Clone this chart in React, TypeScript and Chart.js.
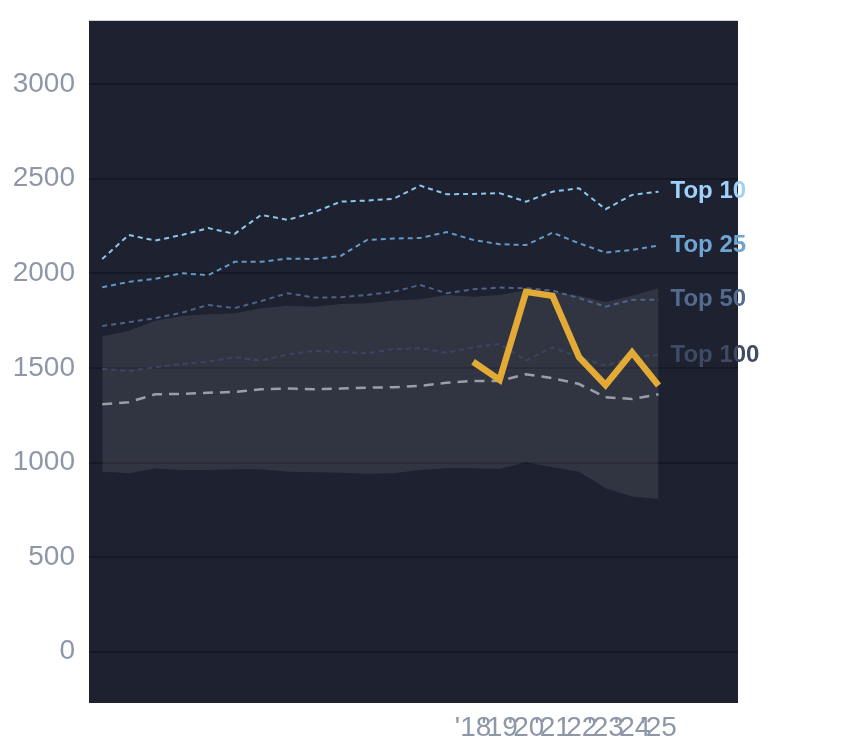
import React, { useEffect, useRef } from 'react';
import { Chart, registerables } from 'chart.js';

Chart.register(...registerables);

// years 2004 .. 2025
const years = [2004, 2005, 2006, 2007, 2008, 2009, 2010, 2011, 2012, 2013, 2014, 2015, 2016, 2017, 2018, 2019, 2020, 2021, 2022, 2023, 2024, 2025];
const xTicks = [2018, 2019, 2020, 2021, 2022, 2023, 2024, 2025];
const yTicks = [0, 500, 1000, 1500, 2000, 2500, 3000];

const top10 = [2076, 2203, 2173, 2203, 2239, 2209, 2309, 2283, 2323, 2379, 2385, 2394, 2464, 2418, 2420, 2424, 2379, 2432, 2450, 2339, 2415, 2432];
const top25 = [1927, 1955, 1971, 2001, 1990, 2061, 2061, 2078, 2076, 2092, 2177, 2184, 2187, 2218, 2177, 2154, 2150, 2215, 2159, 2110, 2124, 2147];
const top50 = [1722, 1742, 1763, 1792, 1833, 1816, 1854, 1895, 1872, 1874, 1886, 1903, 1939, 1895, 1916, 1925, 1921, 1909, 1869, 1824, 1860, 1860];
const top100 = [1495, 1484, 1504, 1521, 1533, 1557, 1539, 1572, 1590, 1585, 1578, 1599, 1604, 1581, 1609, 1627, 1539, 1609, 1557, 1511, 1557, 1569];
const median = [1308, 1319, 1361, 1363, 1369, 1373, 1387, 1391, 1387, 1391, 1396, 1398, 1405, 1422, 1431, 1431, 1467, 1446, 1415, 1345, 1336, 1361];
const bandHigh = [1666, 1696, 1749, 1775, 1784, 1789, 1816, 1829, 1824, 1838, 1842, 1856, 1863, 1886, 1877, 1886, 1912, 1902, 1881, 1849, 1881, 1921];
const bandLow = [952, 943, 968, 961, 961, 964, 964, 952, 949, 946, 941, 943, 961, 970, 970, 966, 1001, 975, 952, 864, 820, 807];
const highlight = [null, null, null, null, null, null, null, null, null, null, null, null, null, null, 1533, 1437, 1902, 1881, 1557, 1410, 1582, 1407];

const tierNames = ['Top 10', 'Top 25', 'Top 50', 'Top 100'];
const tierLine = ['#8fc6ee', '#6699c4', '#4c6487', '#3a4660'];
const tierText = ['#9fd2fb', '#6fa5d3', '#536b8d', '#3f4b64'];

const toPoints = (vals: (number | null)[]) => years.map((y, i) => ({ x: y, y: vals[i] }));

// writes "Top N" next to the last point of each tier line
const endLabels = {
  id: 'endLabels',
  afterDatasetsDraw(chart: any) {
    const ctx = chart.ctx;
    ctx.save();
    ctx.font = 'bold 24px "Liberation Sans", Arial, sans-serif';
    ctx.textAlign = 'left';
    ctx.textBaseline = 'middle';
    chart.data.datasets.forEach((ds: any, i: number) => {
      if (ds.endLabel == null) return;
      const pts = chart.getDatasetMeta(i).data;
      const last = pts[pts.length - 1];
      ctx.fillStyle = ds.endColor;
      ctx.fillText(ds.endLabel, last.x + 12, last.y);
    });
    ctx.restore();
  },
};

const plotBg = {
  id: 'plotBg',
  beforeDraw(chart: any) {
    const { ctx, chartArea } = chart;
    ctx.save();
    ctx.fillStyle = '#1d2130';
    ctx.fillRect(chartArea.left, chartArea.top, chartArea.right - chartArea.left, chartArea.bottom - chartArea.top);
    ctx.restore();
  },
};

const App = () => {
  const canvasRef = useRef<HTMLCanvasElement | null>(null);

  useEffect(() => {
    if (!canvasRef.current) return;

    const tierSets = [top10, top25, top50, top100].map((vals, i) => ({
      data: toPoints(vals),
      borderColor: tierLine[i],
      borderWidth: 2,
      borderDash: [5, 4],
      pointRadius: 0,
      fill: false,
      endLabel: tierNames[i],
      endColor: tierText[i],
    }));

    const chart = new Chart(canvasRef.current, {
      type: 'line',
      data: {
        datasets: [
          {
            data: toPoints(highlight),
            borderColor: '#e3aa36',
            borderWidth: 6.5,
            pointRadius: 0,
            fill: false,
            spanGaps: false,
          },
          ...tierSets,
          {
            data: toPoints(median),
            borderColor: '#9a9ea8',
            borderWidth: 2.5,
            borderDash: [10, 7],
            pointRadius: 0,
            fill: false,
          },
          {
            data: toPoints(bandHigh),
            borderWidth: 0,
            borderColor: 'rgba(0,0,0,0)',
            backgroundColor: 'rgba(255,255,255,0.09)',
            pointRadius: 0,
            fill: '+1',
          },
          {
            data: toPoints(bandLow),
            borderWidth: 0,
            borderColor: 'rgba(0,0,0,0)',
            pointRadius: 0,
            fill: false,
          },
        ] as any,
      },
      options: {
        responsive: false,
        animation: false,
        layout: { padding: { left: 0, top: 0, right: 106, bottom: 0 } },
        plugins: {
          legend: { display: false },
          tooltip: { enabled: false },
        },
        scales: {
          x: {
            type: 'linear',
            min: 2003.5,
            max: 2028,
            afterBuildTicks: (axis: any) => {
              axis.ticks = xTicks.map((v) => ({ value: v }));
            },
            afterFit: (axis: any) => {
              axis.height = 45;
            },
            grid: { display: false },
            border: { display: false },
            ticks: {
              autoSkip: false,
              maxRotation: 0,
              minRotation: 0,
              padding: 0,
              color: '#8d97a8',
              font: { size: 28, family: '"Liberation Sans", Arial, sans-serif' },
              callback: (v: any) => "'" + String(v).slice(2),
            },
          },
          y: {
            min: -271,
            max: 3335,
            afterBuildTicks: (axis: any) => {
              axis.ticks = yTicks.map((v) => ({ value: v }));
            },
            afterFit: (axis: any) => {
              axis.width = 89;
            },
            grid: { color: '#151925', lineWidth: 2, drawTicks: false },
            border: { display: false },
            ticks: {
              padding: 14,
              color: '#8d97a8',
              font: { size: 28, family: '"Liberation Sans", Arial, sans-serif' },
              callback: (v: any) => String(v),
            },
          },
        },
      },
      plugins: [plotBg, endLabels],
    });

    return () => {
      chart.destroy();
    };
  }, []);

  // the y labels force ~31px of space above the plot; shift the canvas up so the plot starts at 21px
  return (
    <div style={{ position: 'absolute', left: 0, top: 0, width: 844, height: 748, background: '#ffffff', overflow: 'hidden' }}>
      <canvas
        ref={canvasRef}
        width={844}
        height={758}
        style={{ position: 'absolute', left: 0, top: -10, width: 844, height: 758 }}
      ></canvas>
    </div>
  );
};

export default App;
